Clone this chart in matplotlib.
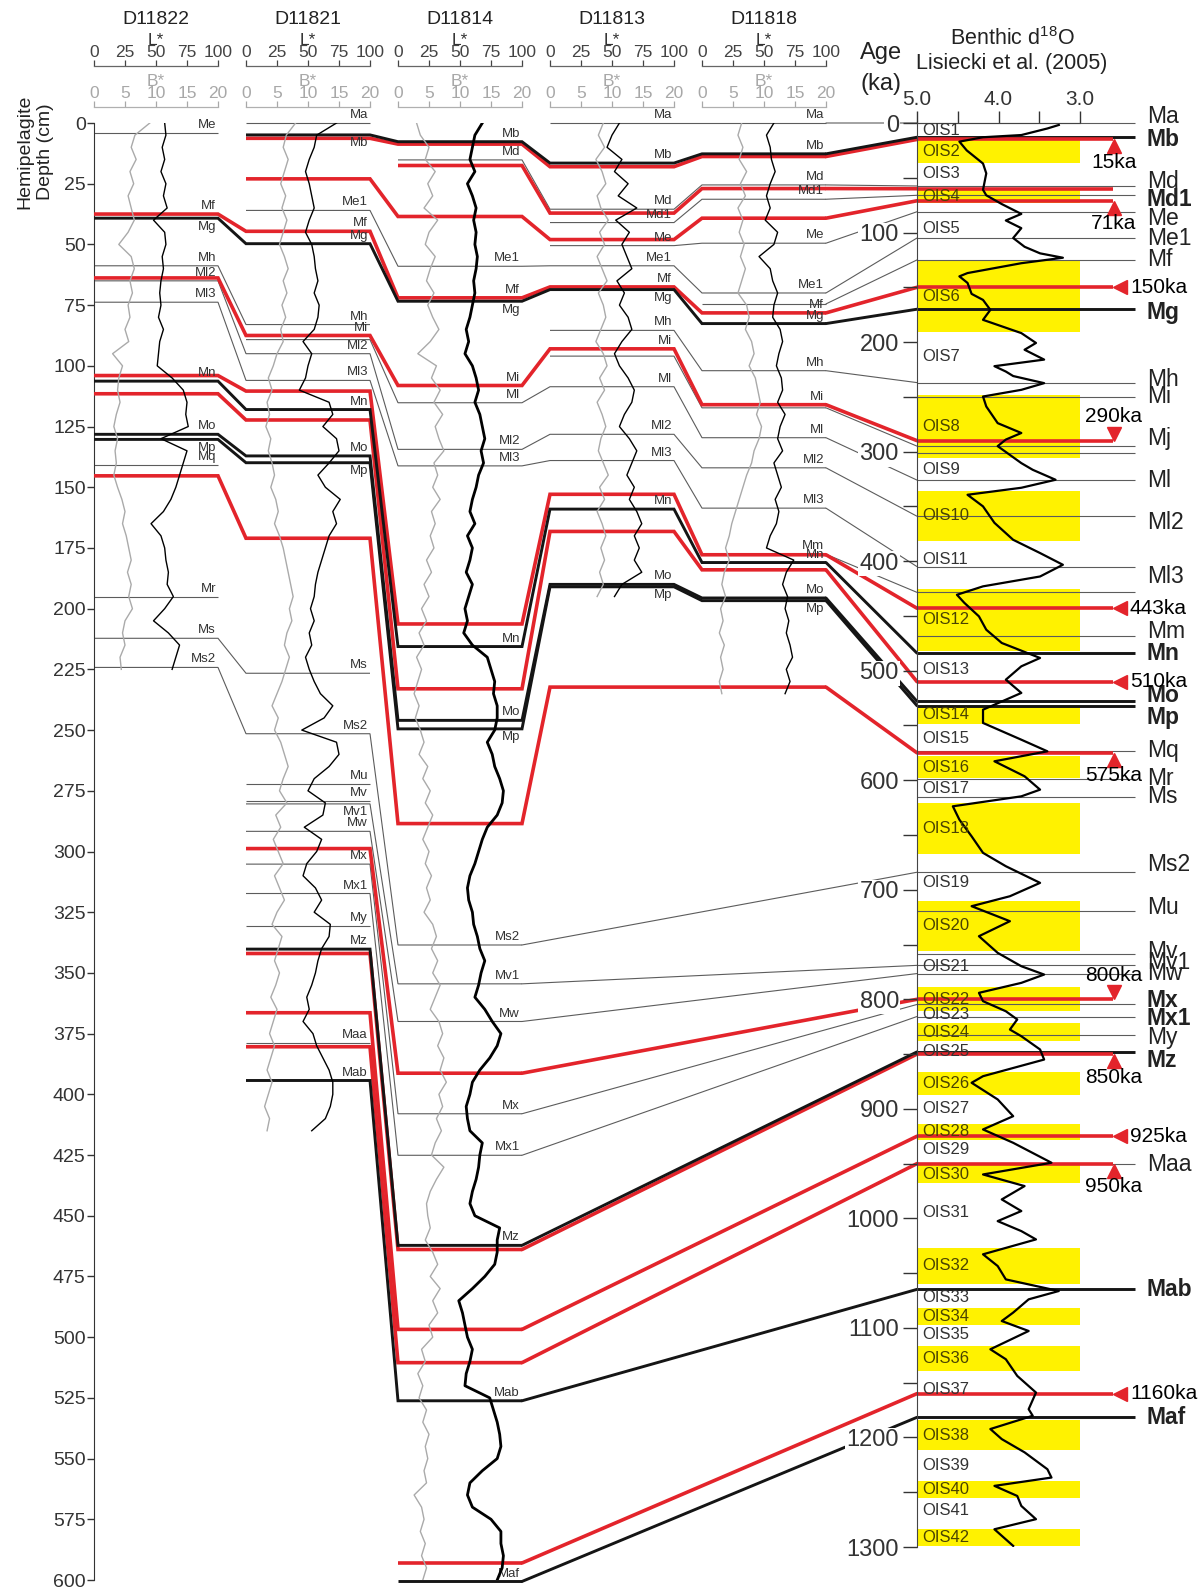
import numpy as np
import matplotlib
matplotlib.use('Agg')
import matplotlib.pyplot as plt
from matplotlib.patches import ConnectionPatch

plt.rcParams['font.family'] = ['Liberation Sans', 'DejaVu Sans']
plt.rcParams['mathtext.fontset'] = 'custom'
plt.rcParams['mathtext.rm'] = 'Liberation Sans'

# ---------------------------------------------------------------- data
cores = ['D11822', 'D11821', 'D11814', 'D11813', 'D11818']
sample_step = 5  # cm between colour readings

lstar_d11822 = [57, 58, 55, 57, 54, 58, 56, 59, 48, 57, 58, 55, 56, 54, 53, 54, 52, 56, 53, 52,
                51, 63, 72, 75, 74, 76, 54, 75, 72, 69, 66, 62, 56, 46, 54, 57, 58, 60, 59, 64,
                57, 48, 60, 69, 66, 63]
bstar_d11822 = [9.0, 6.6, 6.0, 6.8, 5.8, 6.4, 5.5, 6.0, 6.5, 5.5, 4.0, 6.0, 6.5, 5.8, 6.2, 5.5,
                5.8, 5.0, 5.6, 3.0, 4.6, 4.0, 3.8, 4.2, 3.6, 3.2, 3.8, 3.4, 3.6, 3.2, 3.8, 4.5,
                5.0, 4.6, 5.2, 5.6, 6.0, 5.4, 6.0, 5.6, 6.2, 5.0, 4.6, 5.0, 4.2, 4.4]

lstar_d11821 = [73, 57, 55, 51, 48, 51, 53, 55, 51, 48, 53, 55, 56, 58, 55, 59, 58, 55, 46, 53,
                50, 48, 43, 67, 70, 62, 73, 75, 67, 58, 64, 76, 70, 73, 67, 64, 61, 58, 56, 55,
                52, 55, 51, 53, 48, 51, 55, 60, 70, 63, 45, 73, 75, 67, 55, 50, 64, 62, 47, 61,
                57, 49, 46, 56, 61, 55, 68, 67, 61, 58, 56, 53, 49, 51, 46, 54, 57, 62, 67, 70,
                70, 68, 64, 53]
bstar_d11821 = [8.0, 6.5, 6.0, 6.8, 6.2, 5.6, 6.4, 5.8, 6.6, 6.0, 5.4, 6.2, 6.8, 6.0, 6.6, 5.8,
                6.4, 5.6, 6.0, 5.0, 4.4, 3.6, 4.2, 3.4, 3.8, 3.2, 4.0, 3.6, 4.2, 4.6, 4.0, 4.8,
                5.2, 4.6, 5.4, 6.0, 6.4, 6.8, 7.2, 7.6, 7.0, 7.4, 6.6, 6.2, 7.0, 6.4, 5.8, 5.0,
                4.2, 5.2, 4.6, 5.6, 6.2, 6.8, 6.0, 5.4, 6.6, 4.8, 5.6, 4.4, 5.2, 6.0, 4.6, 5.4,
                6.2, 5.0, 4.2, 5.8, 5.2, 4.6, 5.4, 4.8, 4.0, 5.0, 4.4, 3.8, 4.6, 4.0, 3.4, 4.2,
                3.6, 3.0, 3.8, 3.4]

lstar_d11814 = [68, 62, 60, 58, 62, 56, 60, 63, 61, 63, 62, 64, 63, 61, 62, 60,
                58, 55, 57, 54, 60, 63, 65, 62, 66, 68, 70, 67, 69, 65, 63, 60, 58, 62, 56, 60,
                58, 55, 60, 57, 54, 56, 53, 60, 72, 75, 78, 77, 80,
                80, 78, 72, 76, 78, 82, 85, 84, 80, 72, 68, 65, 62, 58, 56, 57, 60, 61, 64, 66,
                70, 67, 65, 62, 70, 76, 83, 80, 74, 66, 60, 58, 55, 56, 58,
                68, 66, 65, 63, 60, 58, 62, 82, 80, 80, 78, 70, 60, 49, 52, 54, 56, 60, 58, 55,
                54, 74, 77, 80, 82, 83, 80, 68, 58, 56, 60, 75, 83, 83, 85, 84, 80]
bstar_d11814 = [3.0, 3.6, 5.0, 4.4, 6.0, 4.8, 5.6, 4.2, 6.4, 5.0, 4.4, 6.0, 5.2, 4.6, 5.8, 4.8,
                5.6, 6.6, 5.2, 3.2, 6.2, 5.4, 6.8, 5.8, 7.2, 6.0, 6.6, 7.4, 5.8, 6.4, 5.6, 6.8,
                5.4, 6.0, 5.2, 5.8, 4.6, 5.4, 4.2, 5.0, 3.8, 4.6, 3.4, 4.2, 3.0, 3.8, 3.2, 2.6,
                3.4,
                2.8, 3.6, 4.2, 3.4, 4.8, 4.0, 5.2, 4.4, 5.6, 4.8, 4.0, 5.0, 4.4, 5.4, 4.6, 5.2,
                4.2, 5.6, 6.2, 5.4, 6.4, 5.6, 6.8, 6.0, 5.2, 6.6, 7.2, 6.4, 7.4, 6.8, 7.8, 6.6,
                7.2, 6.2, 7.0,
                6.0, 5.4, 7.4, 6.2, 5.2, 4.6, 4.8, 5.2, 4.4, 5.6, 6.4, 5.2, 6.8, 5.6, 6.4, 5.0,
                5.6, 3.8, 4.4, 3.2, 4.0, 3.4, 4.6, 4.0, 5.0, 4.4, 4.8, 4.2, 4.6, 2.6, 3.8, 4.2,
                3.6, 4.4, 3.8, 4.6, 4.0]

lstar_d11813 = [56, 50, 46, 58, 52, 63, 55, 70, 53, 64, 58, 62, 66, 54, 60, 56, 63, 66, 58, 52,
                56, 63, 68, 66, 60, 56, 64, 70, 66, 62, 68, 64, 70, 74, 68, 72, 68, 74, 58, 52]
bstar_d11813 = [8.6, 7.8, 8.8, 7.4, 8.4, 9.0, 7.6, 8.2, 9.4, 8.0, 8.8, 7.6, 8.4, 9.2, 7.8, 8.6,
                9.0, 8.2, 7.4, 8.6, 9.2, 8.0, 8.8, 7.6, 8.4, 9.0, 8.2, 7.8, 8.6, 9.4, 8.0, 8.8,
                7.6, 8.4, 9.0, 8.2, 8.8, 8.0, 8.6, 7.6]

lstar_d11818 = [58, 52, 55, 56, 59, 55, 52, 55, 51, 61, 58, 46, 55, 57, 61, 58, 57, 63, 65, 62,
                60, 64, 65, 61, 67, 63, 61, 65, 58, 61, 64, 59, 62, 60, 55, 52, 74, 68, 65, 69,
                67, 70, 68, 71, 73, 68, 71, 67]
bstar_d11818 = [6.4, 5.8, 6.6, 6.0, 7.2, 6.2, 7.0, 5.8, 6.6, 6.0, 6.8, 6.2, 7.0, 6.4, 5.8, 7.2,
                7.6, 7.0, 8.0, 8.4, 7.6, 8.6, 9.0, 9.4, 8.8, 9.6, 9.2, 8.4, 8.0, 7.2, 6.6, 6.0,
                5.4, 4.8, 4.4, 3.8, 4.4, 3.6, 3.2, 3.8, 3.0, 3.4, 2.8, 3.6, 3.0, 3.4, 2.8, 3.2]

lstar = [lstar_d11822, lstar_d11821, lstar_d11814, lstar_d11813, lstar_d11818]
bstar = [bstar_d11822, bstar_d11821, bstar_d11814, bstar_d11813, bstar_d11818]

# LR04 benthic stack
d18o_age = [1.8, 5, 11, 13, 17, 25, 37, 46, 61, 66, 74, 83, 89, 96, 105, 113, 119, 123, 128, 137,
            140, 146, 156, 161.5, 170.6, 179.7, 191.8, 200.8, 207, 216, 222, 226.9, 231, 237.5,
            243.6, 249.7, 258.8, 274, 283, 289, 295, 310.5, 316.6, 325.7, 333, 339.4, 350, 365,
            380.5, 392.6, 403.3, 414, 423, 430.7, 438, 450.4, 462.6, 474.7, 488.4, 496, 508.2,
            520.3, 526.5, 535.6, 547.7, 563, 573.6, 582.7, 596.4, 608.6, 614.7, 623.8, 636,
            651.2, 666.3, 678.5, 693.7, 705.9, 715, 728.7, 742.4, 757.6, 769.8, 777.4, 785,
            794.1, 801.7, 810.9, 818.4, 827.6, 833.7, 845.8, 855, 870.2, 876.2, 891.4, 906.7,
            918.8, 931, 949.2, 959.9, 970.5, 982.7, 993.3, 1002.5, 1011.6, 1019.2, 1032.8,
            1043.5, 1055.7, 1066.3, 1073.9, 1086, 1093.7, 1102.8, 1119.5, 1128.6, 1143.8, 1159,
            1174.2, 1180.2, 1192.3, 1201.5, 1213.6, 1229, 1236.6, 1244.2, 1253.4, 1262.5,
            1274.6, 1283.8, 1299]
d18o_val = [3.26, 3.40, 3.72, 4.19, 4.48, 4.39, 4.19, 4.15, 4.19, 4.15, 3.96, 3.72, 3.91, 3.72,
            3.82, 3.68, 3.49, 3.21, 3.72, 4.38, 4.48, 4.38, 4.33, 4.19, 4.10, 4.19, 3.72, 3.54,
            3.68, 3.44, 4.05, 3.91, 3.82, 3.44, 3.72, 4.19, 4.15, 4.01, 3.72, 3.91, 4.01, 3.72,
            3.58, 3.30, 3.72, 4.38, 4.19, 4.05, 3.82, 3.49, 3.21, 3.49, 4.19, 4.51, 4.42, 4.24,
            4.15, 3.96, 3.49, 3.72, 3.91, 3.72, 3.91, 4.19, 4.19, 3.72, 3.40, 4.05, 3.68, 3.49,
            3.72, 4.56, 4.48, 4.33, 4.19, 3.91, 3.49, 3.86, 4.33, 3.86, 4.24, 4.01, 3.72, 3.44,
            3.72, 4.24, 4.19, 3.91, 3.77, 3.86, 3.72, 3.49, 3.44, 4.19, 4.33, 4.01, 3.82, 4.19,
            3.82, 3.35, 4.19, 3.68, 3.96, 3.72, 4.01, 3.72, 3.54, 4.19, 4.01, 3.91, 3.26, 3.63,
            3.82, 3.96, 3.63, 4.10, 3.91, 3.77, 3.54, 3.63, 3.58, 4.10, 3.96, 3.68, 3.40, 3.35,
            4.05, 3.77, 3.72, 3.54, 4.05, 3.82]

# glacial (even) isotope stages, ka
glacial_top = [15.5, 61, 125, 248, 335.5, 425, 531, 578, 621, 710, 789, 822, 866.5, 913.6,
               951.6, 1026.7, 1082, 1116.5, 1184, 1239.7, 1283.7]
glacial_base = [36.5, 73, 191, 305.7, 382, 481.8, 549, 598, 667, 756, 811, 838, 887.8, 928,
                967.5, 1060, 1097.6, 1139, 1211.7, 1255.5, 1299]
interglacial_mid = [7, 46, 96, 213, 316.6, 398.7, 499, 562, 607.7, 693, 769.8, 814, 848, 900,
                    937, 994.5, 1072, 1106, 1156.6, 1225.5, 1267]

# correlated horizons: station = (core index, depth cm) or ('age', ka)
horizons = [
    ('Ma', 'thin', [(1, 0.0)]),
    ('Ma', 'thin', [(3, 0.0), (4, 0.0), ('age', 0)]),
    ('Me', 'thin', [(0, 4.2)]),
    ('Md', 'thin', [(2, 15.2), (3, 35.5), (4, 25.5), ('age', 57.5)]),
    ('Md1', 'thin', [(3, 41.0), (4, 31.4), ('age', 66)]),
    ('Me', 'thin', [(3, 50.5), (4, 49.5), ('age', 81)]),
    ('Me1', 'thin', [(1, 36.0), (2, 59.0), (3, 58.8), (4, 70.0), ('age', 105)]),
    ('', 'thin', [(4, 74.5), ('age', 125)]),
    ('Mh', 'thin', [(0, 58.8), (1, 83.0)]),
    ('Mh', 'thin', [(3, 85.4), (4, 102.0), ('age', 237)]),
    ('Ml2', 'thin', [(0, 65.0), (1, 95.0), (2, 134.4), (3, 128.2), (4, 142.0), ('age', 359)]),
    ('Ml3', 'thin', [(0, 73.8), (1, 106.0), (2, 141.2), (3, 139.0), (4, 158.6), ('age', 405)]),
    ('Ml', 'thin', [(1, 89.2), (2, 115.2), (3, 108.6), (4, 129.6), ('age', 326)]),
    ('', 'thin', [(3, 96.0), (4, 117.3), ('age', 295)]),
    ('Mm', 'thin', [(4, 177.6), ('age', 428.5)]),
    ('Mq', 'thin', [(0, 140.8)]),
    ('Mr', 'thin', [(0, 195.0)]),
    ('Ms', 'thin', [(0, 212.2), (1, 226.6)]),
    ('Ms2', 'thin', [(0, 224.2), (1, 251.5), (2, 338.5), ('age', 684)]),
    ('Mu', 'thin', [(1, 272.0)]),
    ('Mv', 'thin', [(1, 279.3)]),
    ('Mv1', 'thin', [(1, 280.4), (2, 354.5), ('age', 769)]),
    ('Mw', 'thin', [(1, 291.7), (2, 370.0), ('age', 776.5)]),
    ('Mx', 'thin', [(1, 305.2), (2, 408.0), ('age', 804.7)]),
    ('Mx1', 'thin', [(1, 317.3), (2, 425.1), ('age', 815.7)]),
    ('My', 'thin', [(1, 330.7)]),
    ('Maa', 'thin', [(1, 378.7)]),
    ('', 'red', [(1, 6.3), (2, 8.7), (3, 18.0), (4, 13.8), ('age', 15)]),
    ('', 'red', [(2, 17.5), (3, 37.1), (4, 27.0), ('age', 60)]),
    ('', 'red', [(1, 23.0), (2, 38.5), (3, 48.0), (4, 39.2), ('age', 71)]),
    ('Mf', 'red', [(0, 37.5), (1, 44.6), (2, 72.0), (3, 67.5), (4, 78.2), ('age', 150)]),
    ('Mi', 'red', [(0, 63.8), (1, 87.5), (2, 108.1), (3, 93.0), (4, 116.0), ('age', 290)]),
    ('', 'red', [(0, 104.0), (1, 110.4), (2, 206.3), (3, 152.9), (4, 177.8), ('age', 443)]),
    ('', 'red', [(0, 111.5), (1, 122.3), (2, 233.0), (3, 168.2), (4, 184.0), ('age', 510)]),
    ('', 'red', [(0, 145.3), (1, 171.0), (2, 288.5), (3, 232.3), (4, 232.3), ('age', 575)]),
    ('', 'red', [(1, 298.8), (2, 391.3), ('age', 800)]),
    ('', 'red', [(1, 342.0), (2, 463.9), ('age', 850)]),
    ('', 'red', [(1, 366.4), (2, 496.8), ('age', 925)]),
    ('', 'red', [(1, 380.4), (2, 510.5), ('age', 950)]),
    ('', 'red', [(2, 593.0), ('age', 1160)]),
    ('Mb', 'black', [(1, 4.9), (2, 7.7), (3, 16.5), (4, 12.7), ('age', 13)]),
    ('Mg', 'black', [(0, 39.2), (1, 49.7), (2, 73.4), (3, 68.6), (4, 82.6), ('age', 170)]),
    ('Mn', 'black', [(0, 106.3), (1, 118.0), (2, 215.6), (3, 159.0), (4, 181.0), ('age', 484)]),
    ('Mo', 'black', [(0, 128.2), (1, 137.1), (2, 246.0), (3, 190.0), (4, 195.6), ('age', 528)]),
    ('Mp', 'black', [(0, 130.3), (1, 139.9), (2, 249.5), (3, 191.0), (4, 196.7), ('age', 532)]),
    ('Mz', 'black', [(1, 340.2), (2, 462.2), ('age', 848)]),
    ('Mab', 'black', [(1, 394.3), (2, 526.2), ('age', 1064.8)]),
    ('Maf', 'black', [(2, 600.6), ('age', 1181.6)]),
]

# horizons on the age scale
right_ages = [0, 13, 15, 57.5, 60, 66, 71, 81, 105, 125, 150, 170, 237, 250, 290, 295, 301,
              326, 359, 405, 428.5, 443, 468, 484, 510, 528, 532, 573, 575, 598.5, 615, 684,
              719.6, 759, 769, 776.5, 800, 804.7, 815.7, 833, 848, 850, 925, 950.7, 950,
              1064.8, 1160, 1181.6]
right_names = ['Ma', 'Mb', '', 'Md', '', 'Md1', '', 'Me', 'Me1', 'Mf', '', 'Mg', 'Mh', 'Mi', '',
               'Mj', '', 'Ml', 'Ml2', 'Ml3', '', '', 'Mm', 'Mn', '', 'Mo', 'Mp', 'Mq', '', 'Mr',
               'Ms', 'Ms2', 'Mu', 'Mv', 'Mv1', 'Mw', '', 'Mx', 'Mx1', 'My', 'Mz', '', '', 'Maa',
               '', 'Mab', '', 'Maf']
right_kinds = ['thin', 'black', 'red', 'thin', 'red', 'thin', 'red', 'thin', 'thin', 'thin',
               'red', 'black', 'thin', 'thin', 'red', 'thin', 'thin', 'thin', 'thin', 'thin',
               'thin', 'red', 'thin', 'black', 'red', 'black', 'black', 'thin', 'red', 'thin',
               'thin', 'thin', 'thin', 'thin', 'thin', 'thin', 'red', 'thin', 'thin', 'thin',
               'black', 'red', 'red', 'thin', 'red', 'black', 'red', 'black']
bold_names = {'Mb', 'Md1', 'Mg', 'Mn', 'Mo', 'Mp', 'Mx', 'Mx1', 'Mz', 'Mab', 'Maf'}

# dated tie points
dated_ages = [15, 71, 150, 290, 443, 510, 575, 800, 850, 925, 950, 1160]
dated_side = ['below', 'below', 'right', 'above', 'right', 'right', 'below', 'above', 'below',
              'right', 'below', 'right']

# ---------------------------------------------------------------- layout (pixels)
W, H = 1202, 1590
panel_left = [94, 246, 398, 550, 702]
panel_w = 124
depth_y0, depth_y600 = 123, 1580
age_x0, age_y1300 = 917, 1547
iso_px = 81.5  # pixels per permil

label_nudge = {'Ma': -6, 'Mb': 2, 'Md': -4, 'Md1': 4, 'Me': 6, 'Mg': 3, 'Mh': -3, 'Mj': -7,
               'Ml2': 6, 'Ml3': 9, 'Mm': -4, 'Mo': -5, 'Mp': 11, 'Ms2': -7, 'Mu': -3, 'Mv': -3,
               'Mv1': -2.5, 'Mx': -4, 'Mx1': 1.5, 'My': 2, 'Mz': 8}
labels_below = {('Mb', 1), ('Mp', 0), ('Mp', 1), ('Mp', 2), ('Mp', 3), ('Mp', 4),
                ('Mv1', 1), ('Mg', 0), ('Mg', 2), ('Mg', 3)}
labels_skip = {('Mi', 0), ('Ml', 1)}

styles = {'thin': dict(color='#5c5c5c', lw=0.8, zorder=2),
          'red': dict(color='#e3242b', lw=2.6, zorder=3),
          'black': dict(color='#151515', lw=2.1, zorder=4)}
RED = styles['red']['color']


def fx(x):
    return x / W


def fy(y):
    return 1 - y / H


def frac(y):
    return (depth_y600 - y) / (depth_y600 - depth_y0)


fig = plt.figure(figsize=(W / 100, H / 100), dpi=100)

# ---------------------------------------------------------------- age / d18O column
ax_age = fig.add_axes([fx(age_x0), fy(age_y1300), (W - age_x0) / W,
                       (age_y1300 - depth_y0) / H], zorder=3)
ax_age.patch.set_visible(False)
ax_age.set_xlim(5.0, 5.0 - (W - age_x0) / iso_px)
ax_age.set_ylim(1300, 0)
ax_age.spines['right'].set_visible(False)
ax_age.spines['bottom'].set_visible(False)
ax_age.spines['top'].set_bounds(5.0, 3.0)
for s in ('left', 'top'):
    ax_age.spines[s].set_color('#444')
ax_age.xaxis.tick_top()
ax_age.set_xticks([5.0, 4.0, 3.0])
ax_age.set_xticklabels(['5.0', '4.0', '3.0'])
ax_age.set_xticks([4.5, 3.5], minor=True)
ax_age.tick_params(axis='x', which='both', direction='out', length=9, width=1,
                   labelsize=15, pad=1, colors='#333')
ax_age.set_yticks(np.arange(0, 1301, 100))
ax_age.set_yticks(np.arange(50, 1300, 100), minor=True)
ax_age.tick_params(axis='y', which='both', direction='out', length=10, width=1,
                   labelsize=17, pad=3, colors='#333')
for lab in ax_age.get_yticklabels():
    lab.set_bbox(dict(facecolor='white', edgecolor='none', pad=1.0))

ax_age.barh([(a + b) / 2 for a, b in zip(glacial_top, glacial_base)],
            width=-2.0, left=5.0,
            height=[b - a for a, b in zip(glacial_top, glacial_base)],
            color='#fff200', zorder=1)
for k, (a, b) in enumerate(zip(glacial_top, glacial_base)):
    ax_age.text(4.93, (a + b) / 2, f'OIS{2 * k + 2}', ha='left', va='center',
                fontsize=12, color='#4a4300', zorder=5)
for k, a in enumerate(interglacial_mid):
    ax_age.text(4.93, a, f'OIS{2 * k + 1}', ha='left', va='center',
                fontsize=12, color='#333', zorder=5)

line_stop = 5.0 - (1135 - age_x0) / iso_px
red_stop = 5.0 - (1113 - age_x0) / iso_px
label_x = 5.0 - (1147 - age_x0) / iso_px
for a, name, kind in zip(right_ages, right_names, right_kinds):
    st = styles[kind]
    ax_age.plot([5.0, red_stop if kind == 'red' else line_stop], [a, a], color=st['color'],
                lw=st['lw'], zorder=2, solid_capstyle='butt', clip_on=False)
    if name:
        ax_age.text(label_x, a + label_nudge.get(name, 0), name, ha='left', va='center',
                    fontsize=16.5, color='#222',
                    fontweight='bold' if name in bold_names else 'normal')

tri_x = 5.0 - (1114 - age_x0) / iso_px
tri_half = 6.3
for a, side in zip(dated_ages, dated_side):
    if side == 'below':
        ax_age.plot(tri_x, a + tri_half, marker='^', ms=10, color=RED, clip_on=False, zorder=3)
        ax_age.text(tri_x, a + 21, f'{a}ka', ha='center', va='center', fontsize=15)
    elif side == 'above':
        ax_age.plot(tri_x, a - tri_half, marker='v', ms=10, color=RED, clip_on=False, zorder=3)
        ax_age.text(tri_x, a - 22, f'{a}ka', ha='center', va='center', fontsize=15)
    else:
        ax_age.plot(red_stop - 7 / iso_px, a, marker='<', ms=10, color=RED, clip_on=False,
                    zorder=3)
        ax_age.text(5.0 - (1130 - age_x0) / iso_px, a, f'{a}ka', ha='left', va='center',
                    fontsize=15)

ax_age.plot(d18o_val, d18o_age, color='black', lw=1.6, zorder=4)

# ---------------------------------------------------------------- depth frame
ax = fig.add_axes([fx(panel_left[0]), fy(depth_y600), (age_x0 - panel_left[0]) / W,
                   (depth_y600 - depth_y0) / H], zorder=1)
ax.set_xlim(panel_left[0], age_x0)
ax.set_ylim(600, 0)
for s in ('top', 'right', 'bottom'):
    ax.spines[s].set_visible(False)
ax.spines['left'].set_color('#333')
ax.set_xticks([])
ax.set_yticks(np.arange(0, 601, 25))
ax.tick_params(axis='y', direction='out', length=5, width=1, labelsize=14, pad=1,
               colors='#333')

for name, kind, stations in horizons:
    st = styles[kind]
    xs, ys, last = [], [], None
    for key, val in stations:
        if key == 'age':
            con = ConnectionPatch(xyA=(panel_left[last[0]] + panel_w, last[1]),
                                  coordsA=ax.transData, xyB=(5.0, val),
                                  coordsB=ax_age.transData, color=st['color'],
                                  linewidth=st['lw'], zorder=st['zorder'])
            ax.add_artist(con)
            con.set_clip_on(False)
            break
        xs += [panel_left[key], panel_left[key] + panel_w]
        ys += [val, val]
        last = (key, val)
        if name and (name, key) not in labels_skip:
            below = (name, key) in labels_below
            ax.text(panel_left[key] + panel_w - 2, val + (1.0 if below else -0.8), name,
                    ha='right', va='top' if below else 'bottom', fontsize=9.5, color='#333',
                    zorder=6)
    ax.plot(xs, ys, solid_joinstyle='miter', solid_capstyle='butt', clip_on=False, **st)

fig.text(fx(35), fy(152), 'Hemipelagite\nDepth (cm)', rotation=90, ha='center',
         va='center', fontsize=14, linespacing=1.3, color='#222')

# ---------------------------------------------------------------- core colour logs
for i, core in enumerate(cores):
    axp = fig.add_axes([fx(panel_left[i]), fy(depth_y600), panel_w / W,
                        (depth_y600 - depth_y0) / H], zorder=2)
    axp.patch.set_visible(False)
    axp.set_xlim(0, 100)
    axp.set_ylim(600, 0)
    axp.set_xticks([])
    axp.set_yticks([])
    for s in axp.spines.values():
        s.set_visible(False)
    depth = np.arange(len(lstar[i])) * sample_step
    axp.plot(np.array(bstar[i]) * 5, depth, color='#aaaaaa', lw=1.0)
    axp.plot(lstar[i], depth, color='black', lw=2.0 if core == 'D11814' else 1.0)

    sec_l = axp.secondary_xaxis(frac(66))
    sec_l.set_xticks([0, 25, 50, 75, 100])
    sec_l.tick_params(axis='x', direction='out', length=4, width=0.9, colors='#444',
                      labelsize=12.5, pad=0.5)
    for s in sec_l.spines.values():
        s.set_color('#666')
        s.set_linewidth(0.9)
    sec_b = axp.secondary_xaxis(frac(107), functions=(lambda v: v / 5, lambda v: v * 5))
    sec_b.set_xticks([0, 5, 10, 15, 20])
    sec_b.tick_params(axis='x', direction='out', length=4, width=0.9, colors='#a8a8a8',
                      labelsize=12.5, pad=0.5)
    for s in sec_b.spines.values():
        s.set_color('#b0b0b0')
        s.set_linewidth(0.9)

    tr = axp.get_xaxis_transform()
    axp.text(50, frac(20), core, transform=tr, ha='center', va='center', fontsize=14,
             color='#222')
    axp.text(50, frac(40), 'L*', transform=tr, ha='center', va='center', fontsize=12.5,
             color='#333')
    axp.text(50, frac(81), 'B*', transform=tr, ha='center', va='center', fontsize=12.5,
             color='#a8a8a8')

fig.text(fx(881), fy(53), 'Age', ha='center', va='center', fontsize=17, color='#222')
fig.text(fx(881), fy(84), '(ka)', ha='center', va='center', fontsize=17, color='#222')
fig.text(fx(1012), fy(39), r'Benthic d$^{18}$O', ha='center', va='center', fontsize=15.5,
         color='#222')
fig.text(fx(1012), fy(63), 'Lisiecki et al. (2005)', ha='center', va='center',
         fontsize=15.5, color='#222')

fig.savefig('out.png', dpi=100, facecolor='white')
